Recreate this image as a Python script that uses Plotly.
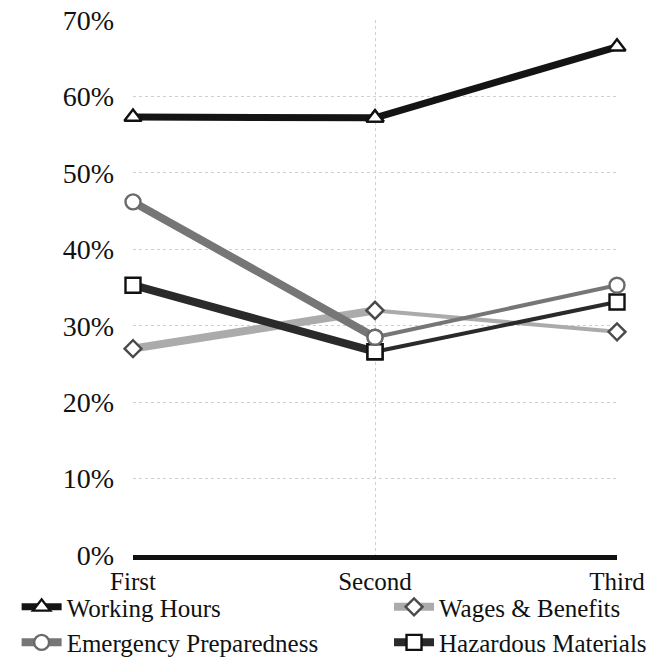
import plotly.graph_objects as go

# Survey rounds and share of respondents per topic
rounds = ["First", "Second", "Third"]
working_hours = [0.573, 0.572, 0.665]
wages_benefits = [0.270, 0.320, 0.292]
emergency_prep = [0.462, 0.285, 0.353]
hazardous_mat = [0.353, 0.266, 0.331]

y_ticks = [0, 0.1, 0.2, 0.3, 0.4, 0.5, 0.6, 0.7]

series = [
    # name, values, line colour, marker symbol, marker outline, legend, widths
    ("Working Hours", working_hours, "#141414", "triangle-up", "#111111", "legend", 7, 7),
    ("Wages & Benefits", wages_benefits, "#ababab", "diamond", "#4a4a4a", "legend2", 8, 4),
    ("Emergency Preparedness", emergency_prep, "#767676", "circle", "#6a6a6a", "legend", 8, 4),
    ("Hazardous Materials", hazardous_mat, "#2a2a2a", "square", "#111111", "legend2", 8, 4),
]

fig = go.Figure()
draw_order = [1, 3, 2, 0]
for i in draw_order:
    name, vals, col, sym, outline, leg, w1, w2 = series[i]
    size = 15 if sym != "diamond" else 13
    marker = dict(symbol=sym, size=size, color="white", line=dict(color=outline, width=2.4))
    # first segment (heavier stroke) carries the legend entry
    fig.add_trace(go.Scatter(
        x=rounds[:2], y=vals[:2], mode="lines+markers", name=name,
        legendgroup=name, legend=leg, legendrank=i,
        line=dict(color=col, width=w1), marker=marker, cliponaxis=False,
    ))
    # second segment
    fig.add_trace(go.Scatter(
        x=rounds[1:], y=vals[1:], mode="lines+markers", name=name,
        legendgroup=name, legend=leg, showlegend=False,
        line=dict(color=col, width=w2), marker=marker, cliponaxis=False,
    ))

serif = "Liberation Serif, Times New Roman, serif"
legend_common = dict(
    orientation="v", xref="container", yref="container",
    yanchor="top", xanchor="left", y=0.115,
    font=dict(family=serif, size=25, color="#111111"),
    itemwidth=40, tracegroupgap=0, bgcolor="rgba(0,0,0,0)",
)

fig.update_layout(
    width=665, height=660,
    margin=dict(l=133, r=48, t=20, b=105, autoexpand=False),
    paper_bgcolor="white", plot_bgcolor="white",
    font=dict(family=serif, color="#111111"),
    showlegend=True,
    legend=dict(legend_common, x=0.025),
    legend2=dict(legend_common, x=0.585),
    xaxis=dict(
        type="category", categoryorder="array", categoryarray=rounds,
        range=[0, 2], showgrid=True, gridcolor="#d0d0d0", griddash="dot", gridwidth=1,
        showline=True, linecolor="#111111", linewidth=5,
        ticks="", tickfont=dict(family=serif, size=25, color="#111111"),
        ticklabelstandoff=0, zeroline=False,
    ),
    yaxis=dict(
        range=[0, 0.70], tickvals=y_ticks, tickformat=".0%",
        showgrid=True, gridcolor="#cfcfcf", griddash="dot", gridwidth=1.2,
        zeroline=False, showline=False, ticks="",
        tickfont=dict(family=serif, size=28, color="#111111"),
        ticklabelstandoff=18,
    ),
)

fig.write_html("out.html")
